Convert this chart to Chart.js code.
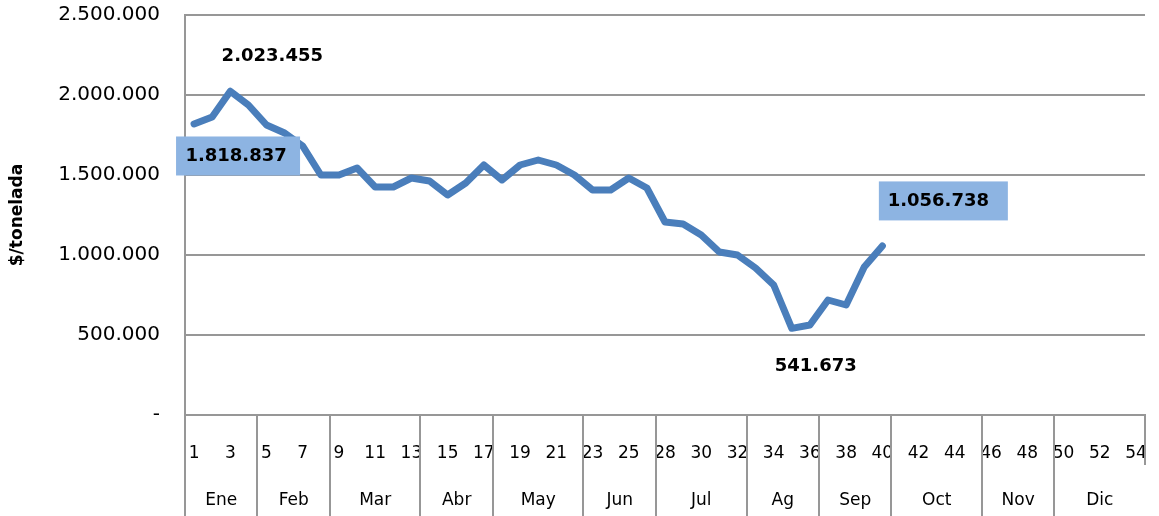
<!DOCTYPE html>
<html>
<head>
<meta charset="utf-8">
<script src="https://cdn.jsdelivr.net/npm/chart.js@4"></script>
<style>
  html, body { margin: 0; padding: 0; background: #fff; }
  #wrap { width: 1159px; height: 516px; position: relative; }
</style>
</head>
<body>
<div id="wrap"><canvas id="precio"></canvas></div>
<script>
/* ── datos ── */
const WEEKS = [1, 2, 3, 4, 5, 6, 7, 8, 9, 10, 11, 12, 13, 14, 15, 16, 17, 18, 19, 20,
  21, 22, 23, 24, 25, 26, 28, 29, 30, 31, 32, 33, 34, 35, 36, 37, 38, 39, 40, 41,
  42, 43, 44, 45, 46, 47, 48, 49, 50, 51, 52, 53, 54];
const MONTHS      = ['Ene', 'Feb', 'Mar', 'Abr', 'May', 'Jun', 'Jul', 'Ag', 'Sep', 'Oct', 'Nov', 'Dic'];
const MONTH_WEEKS = [4, 4, 5, 4, 5, 4, 5, 4, 4, 5, 4, 5];
const PRICES = [1818837, 1862500, 2023455, 1937500, 1812500, 1762500, 1680000, 1500000,
  1500000, 1543750, 1425000, 1425000, 1481250, 1462500, 1375000, 1450000, 1562500,
  1468750, 1562500, 1593750, 1562500, 1500000, 1406250, 1406250, 1481250, 1418750,
  1206250, 1193750, 1125000, 1018750, 1000000, 918750, 812500, 541673, 562500,
  718750, 687500, 925000, 1056738];
const Y_TICKS = [0, 500000, 1000000, 1500000, 2000000, 2500000];

const GRID = '#979797';
const FONT = "'DejaVu Sans', sans-serif";

function fmt(v) {
  if (v === 0) return '-';
  return Math.round(v).toString().replace(/\B(?=(\d{3})+(?!\d))/g, '.');
}

/* etiquetas de datos: índice, desplazamiento, fondo */
const LABELS = [
  { i: 0,  dx: 42, dy: 32,  box: [124, 39], boxDx: 2 },
  { i: 2,  dx: 42, dy: -35 },
  { i: 33, dx: 24, dy: 38 },
  { i: 38, dx: 56, dy: -45, box: [129, 39], boxDx: 5 },
];

const dataLabels = {
  id: 'dataLabels',
  afterDatasetsDraw(chart) {
    const ctx = chart.ctx;
    const meta = chart.getDatasetMeta(0);
    ctx.save();
    ctx.font = 'bold 18px ' + FONT;
    ctx.textAlign = 'center';
    ctx.textBaseline = 'middle';
    LABELS.forEach(l => {
      const p = meta.data[l.i];
      const x = p.x + l.dx, y = p.y + l.dy;
      if (l.box) {
        ctx.fillStyle = '#8DB4E2';
        ctx.fillRect(x + l.boxDx - l.box[0] / 2, y - l.box[1] / 2, l.box[0], l.box[1]);
      }
      ctx.fillStyle = '#000';
      ctx.fillText(fmt(PRICES[l.i]), x, y);
    });
    ctx.restore();
  },
};

/* eje de meses (segundo nivel de categorías) */
const monthAxis = {
  id: 'monthAxis',
  afterDraw(chart) {
    const ctx = chart.ctx;
    const xs = chart.scales.x;
    const half = (xs.getPixelForValue(1) - xs.getPixelForValue(0)) / 2;
    const top = chart.chartArea.bottom;
    const bottom = chart.height;
    ctx.save();
    ctx.strokeStyle = GRID;
    ctx.lineWidth = 2;
    ctx.font = '17px ' + FONT;
    ctx.fillStyle = '#000';
    ctx.textAlign = 'center';
    ctx.textBaseline = 'middle';
    let start = 0;
    MONTHS.forEach((m, k) => {
      const end = start + MONTH_WEEKS[k] - 1;
      const x0 = xs.getPixelForValue(start) - half;
      const x1 = xs.getPixelForValue(end) + half;
      ctx.beginPath();
      ctx.moveTo(Math.round(x0), top);
      ctx.lineTo(Math.round(x0), bottom);
      ctx.stroke();
      if (k === MONTHS.length - 1) {
        ctx.beginPath();
        ctx.moveTo(Math.round(x1), top);
        ctx.lineTo(Math.round(x1), top + 50);
        ctx.stroke();
      }
      ctx.fillText(m, (x0 + x1) / 2, top + 86);
      start = end + 1;
    });
    ctx.restore();
  },
};

new Chart(document.getElementById('precio'), {
  type: 'line',
  data: {
    labels: WEEKS,
    datasets: [{
      data: PRICES,
      borderColor: '#4A7EBB',
      borderWidth: 7,
      tension: 0,
      pointRadius: 0,
      borderJoinStyle: 'round',
      borderCapStyle: 'round',
    }],
  },
  options: {
    responsive: true, maintainAspectRatio: false,
    animation: false,
    layout: { autoPadding: false, padding: { top: 15, right: 14, left: 0, bottom: 0 } },
    plugins: { legend: { display: false }, tooltip: { enabled: false } },
    scales: {
      x: {
        offset: true,
        grid: {
          display: true, drawOnChartArea: false, color: 'transparent',
          tickColor: 'transparent', tickLength: 28, offset: true,
        },
        border: { display: true, color: GRID, width: 2 },
        ticks: {
          autoSkip: false, maxRotation: 0, padding: 0,
          color: '#000', font: { family: FONT, size: 17 },
          callback: (v, i) => (i % 2 === 0 ? WEEKS[i] : ''),
        },
        afterFit: s => { s.height = 101; },
      },
      y: {
        min: 0, max: 2500000,
        afterBuildTicks: s => { s.ticks = Y_TICKS.map(v => ({ value: v })); },
        grid: { color: GRID, lineWidth: 2, tickColor: 'transparent', tickLength: 25 },
        border: { display: true, color: GRID, width: 2 },
        ticks: {
          padding: 0, color: '#000', font: { family: FONT, size: 20 },
          callback: v => fmt(v),
        },
        title: {
          display: true, text: '$/tonelada', color: '#000',
          font: { family: FONT, size: 17, weight: 'bold' }, padding: { top: 7, bottom: 0 },
        },
        afterFit: s => { s.width = 185; },
      },
    },
  },
  plugins: [dataLabels, monthAxis],
});
</script>
</body>
</html>
